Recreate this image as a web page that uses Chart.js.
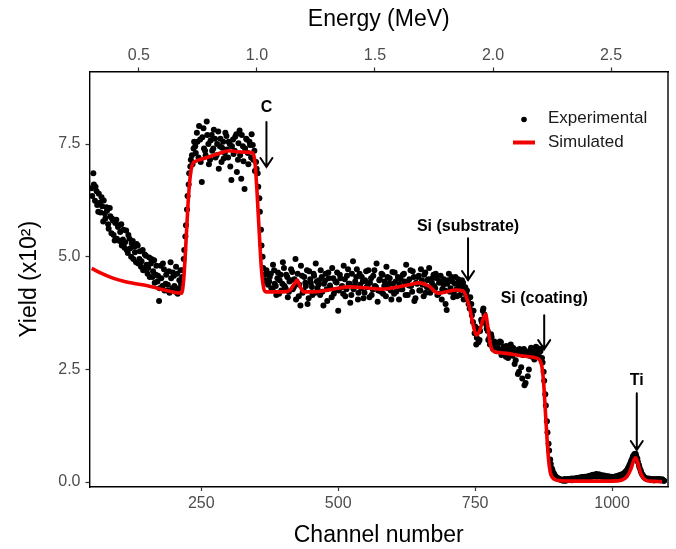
<!DOCTYPE html>
<html>
<head>
<meta charset="utf-8">
<title>RBS spectrum</title>
<script src="https://cdn.jsdelivr.net/npm/chart.js@4.4.0/dist/chart.umd.min.js"></script>
<style>
  html, body { margin: 0; padding: 0; background: #fff; }
  #wrap { width: 676px; height: 549px; }
</style>
</head>
<body>
<div id="wrap"><canvas id="rbsChart" width="676" height="549"></canvas></div>
<script>
// Axis ranges (bottom: channel, top: energy, left: yield x10^2)
const channelMin = 46;
const channelMax = 1102;
const energyMin = 0.291;
const energyMax = 2.741;
const yieldMin = -0.11;
const yieldMax = 9.11;

const channelTicks = [250, 500, 750, 1000];
const energyTicks = [0.5, 1.0, 1.5, 2.0, 2.5];
const yieldTicks = [0.0, 2.5, 5.0, 7.5];

// Experimental spectrum, read every 3 channels: set A from channel 50, set B from channel 51
const expChannelStep = 3;
const expFirstChannelA = 50;
const expYieldA = [
  // 50 - 212
  6.52, 6.85, 6.24, 6.45, 6.00, 6.20, 6.32, 5.78, 5.96, 6.10,
  5.72, 6.08, 5.52, 5.80, 5.36, 5.82, 5.66, 5.35, 5.72, 5.38,
  5.20, 5.58, 5.08, 5.40, 5.00, 5.35, 5.22, 4.88, 5.25, 4.95,
  4.78, 5.15, 4.72, 5.02, 4.62, 4.98, 4.85, 4.55, 4.92, 4.60,
  4.45, 4.02, 4.80, 4.35, 4.72, 4.40, 4.25, 4.68, 4.88, 4.30,
  4.58, 4.22, 4.62, 4.30, 4.70,
  // 215 - 236 (rise)
  4.55, 4.95, 5.45, 6.05, 6.60, 7.00, 7.25, 7.40,
  // 239 - 350
  7.45, 7.75, 7.20, 7.60, 6.66, 7.85, 7.35, 8.00, 7.50, 7.15,
  7.70, 7.40, 7.62, 7.25, 7.78, 7.45, 7.10, 7.55, 7.30, 7.68,
  7.20, 7.50, 6.70, 7.60, 7.35, 7.72, 7.15, 7.80, 6.73, 7.45,
  6.50, 7.62, 7.30, 7.55, 7.20, 7.48, 7.35, 7.10,
  // 353 - 371 (C edge)
  6.85, 6.30, 5.60, 5.00, 4.60, 4.48, 4.62,
  // 374 - 731
  4.45, 4.62, 4.28, 4.70, 4.35, 4.52, 4.18, 4.60, 4.40, 4.75,
  4.30, 4.55, 4.22, 4.48, 4.66, 4.32, 4.95, 4.40, 4.12, 3.92,
  4.58, 4.25, 4.42, 4.70, 4.08, 4.50, 4.33, 4.62, 4.20, 4.45,
  4.38, 4.15, 4.55, 3.92, 4.47, 4.28, 4.65, 4.36, 4.10, 4.52,
  4.25, 4.43, 3.80, 4.60, 4.32, 4.18, 4.50, 4.28, 4.72, 4.40,
  4.15, 4.90, 4.35, 4.55, 4.05, 4.62, 4.30, 4.45, 4.20, 4.68,
  4.38, 4.10, 4.52, 4.27, 4.70, 4.33, 4.00, 4.48, 4.22, 4.60,
  4.35, 4.12, 4.55, 4.40, 4.25, 4.66, 4.18, 4.45, 4.30, 4.05,
  4.50, 4.28, 4.62, 4.15, 4.42, 4.36, 4.70, 4.22, 4.55, 4.08,
  4.40, 4.58, 4.25, 4.48, 4.12, 4.65, 4.32, 4.50, 4.20, 4.42,
  4.60, 4.30, 4.52, 4.18, 4.45, 4.05, 4.38, 4.25, 3.82, 4.48,
  4.22, 4.55, 4.10, 4.40, 4.28, 4.50, 4.15, 4.35, 4.42, 4.20,
  // 734 - 788 (Si substrate edge)
  4.15, 4.05, 3.85, 3.95, 3.55, 3.30, 3.05, 3.40, 3.15, 3.60,
  3.80, 3.72, 3.50, 3.35, 3.20, 3.28, 3.05, 3.12, 2.98,
  // 791 - 872
  3.05, 2.90, 3.10, 2.85, 3.00, 2.78, 2.95, 2.88, 3.05, 2.80,
  2.95, 2.70, 2.92, 2.45, 2.85, 2.30, 2.95, 2.20, 2.88, 2.50,
  2.92, 2.78, 2.95, 2.85, 2.98, 2.80, 2.90, 2.75,
  // 875 - 905 (Si coating edge)
  2.45, 1.95, 1.35, 0.85, 0.50, 0.30, 0.20, 0.14, 0.10, 0.08, 0.06,
  // 908 - 1094
  0.05, 0.03, 0.06, 0.04, 0.07, 0.05, 0.08, 0.05, 0.07, 0.09,
  0.06, 0.10, 0.08, 0.11, 0.09, 0.12, 0.10, 0.14, 0.11, 0.16,
  0.13, 0.18, 0.14, 0.17, 0.12, 0.15, 0.11, 0.13, 0.10, 0.12,
  0.09, 0.11, 0.10, 0.13, 0.12, 0.15, 0.14, 0.16, 0.19, 0.23,
  0.28, 0.35, 0.44, 0.53, 0.60, 0.63, 0.52, 0.38, 0.26, 0.17,
  0.12, 0.09, 0.07, 0.08, 0.05, 0.07, 0.04, 0.06, 0.05, 0.07,
  0.04, 0.06, 0.03
];

const expFirstChannelB = 51;
const expYieldB = [
  // 51 - 213
  6.35, 6.60, 6.55, 6.15, 6.40, 5.98, 6.12, 6.25, 5.85, 6.02,
  5.62, 5.90, 5.85, 5.48, 5.75, 5.40, 5.70, 5.55, 5.25, 5.60,
  5.32, 5.15, 5.48, 5.18, 5.30, 4.95, 5.10, 5.28, 4.85, 5.12,
  4.90, 4.70, 5.05, 4.82, 4.75, 4.55, 4.95, 4.68, 4.42, 4.80,
  4.58, 4.30, 4.52, 4.85, 4.25, 4.60, 4.38, 4.20, 4.52, 4.65,
  4.35, 4.78, 4.18, 4.48, 4.40,
  // 216 - 237 (rise)
  4.70, 5.15, 5.70, 6.35, 6.85, 7.15, 7.05, 7.55,
  // 240 - 351
  7.30, 7.55, 7.90, 7.10, 7.65, 7.40, 7.25, 7.70, 7.05, 7.58,
  7.35, 7.82, 7.20, 7.50, 6.95, 7.62, 7.42, 7.18, 7.75, 7.38,
  7.55, 7.00, 7.45, 7.28, 7.66, 6.88, 7.52, 7.25, 7.70, 7.12,
  7.40, 7.60, 7.05, 7.48, 7.72, 7.15, 6.90, 6.95,
  // 354 - 372 (C edge)
  6.55, 6.00, 5.25, 4.75, 4.45, 4.70, 4.38,
  // 375 - 732
  4.55, 4.30, 4.82, 4.40, 4.15, 4.65, 4.48, 4.25, 4.88, 4.35,
  4.60, 4.10, 4.45, 4.72, 4.28, 4.50, 4.05, 4.62, 4.38, 4.80,
  4.20, 4.55, 4.35, 3.95, 4.68, 4.42, 4.15, 4.58, 4.85, 4.30,
  4.48, 4.70, 4.22, 4.40, 4.62, 4.02, 4.52, 4.30, 4.75, 4.18,
  4.45, 4.65, 4.25, 4.52, 4.35, 4.80, 4.12, 4.58, 4.40, 3.98,
  4.62, 4.28, 4.45, 4.72, 4.20, 4.38, 4.55, 4.08, 4.48, 4.32,
  4.70, 4.42, 4.15, 4.58, 4.35, 4.85, 4.25, 4.50, 4.62, 4.18,
  4.45, 4.78, 4.30, 4.52, 4.05, 4.40, 4.65, 4.22, 4.55, 4.38,
  4.28, 4.60, 4.45, 4.82, 4.15, 4.50, 4.35, 4.68, 4.02, 4.42,
  4.55, 4.25, 4.72, 4.38, 4.60, 4.20, 4.48, 4.75, 4.30, 4.52,
  4.35, 4.62, 4.15, 4.42, 4.58, 4.28, 4.50, 3.95, 4.40, 4.62,
  4.30, 4.45, 4.20, 4.55, 4.12, 4.38, 4.30, 4.48, 4.05, 4.32,
  // 735 - 789 (Si substrate edge)
  4.25, 3.95, 4.10, 3.70, 3.80, 3.45, 3.20, 3.10, 3.35, 3.55,
  3.85, 3.60, 3.40, 3.15, 3.05, 3.22, 2.95, 3.08, 2.90,
  // 792 - 873
  2.95, 3.12, 2.82, 2.98, 2.90, 3.02, 2.75, 2.92, 2.85, 2.98,
  2.62, 2.88, 2.40, 2.95, 2.55, 2.82, 2.15, 2.90, 2.35, 2.80,
  2.98, 2.88, 2.72, 3.00, 2.85, 2.92, 2.95, 2.65,
  // 876 - 906 (Si coating edge)
  2.25, 1.70, 1.10, 0.70, 0.40, 0.26, 0.18, 0.12, 0.09, 0.07, 0.05,
  // 909 - 1095
  0.04, 0.06, 0.03, 0.07, 0.05, 0.06, 0.04, 0.08, 0.06, 0.07,
  0.09, 0.07, 0.11, 0.08, 0.12, 0.10, 0.13, 0.12, 0.15, 0.13,
  0.16, 0.12, 0.17, 0.13, 0.14, 0.12, 0.14, 0.11, 0.13, 0.10,
  0.12, 0.09, 0.12, 0.11, 0.14, 0.13, 0.17, 0.18, 0.21, 0.25,
  0.31, 0.39, 0.48, 0.57, 0.62, 0.58, 0.45, 0.32, 0.22, 0.15,
  0.10, 0.08, 0.06, 0.07, 0.05, 0.06, 0.04, 0.07, 0.05, 0.06,
  0.04, 0.05, 0.03
];

// Simulated spectrum
const simChannel = [
  50, 70, 90, 110, 130, 150, 170, 190, 205, 214,
  218, 222, 226, 230, 234, 240, 255, 270, 285, 300,
  315, 330, 343, 348, 352, 356, 360, 364, 368, 400,
  412, 420, 425, 430, 437, 455, 490, 520, 550, 580,
  610, 630, 647, 665, 683, 700, 714, 728, 734, 740,
  746, 752, 758, 764, 769, 773, 777, 781, 790, 810,
  830, 850, 862, 868, 872, 875, 878, 881, 884, 887,
  891, 897, 907, 950, 1000, 1017, 1027, 1034, 1039, 1043,
  1047, 1051, 1056, 1062, 1070, 1091
];
const simYield = [
  4.74, 4.62, 4.52, 4.45, 4.40, 4.36, 4.30, 4.24, 4.20, 4.19,
  4.50, 5.30, 6.20, 6.80, 7.05, 7.12, 7.18, 7.24, 7.30, 7.35,
  7.33, 7.32, 7.31, 7.10, 6.40, 5.50, 4.70, 4.30, 4.22, 4.22,
  4.26, 4.40, 4.48, 4.35, 4.22, 4.22, 4.28, 4.33, 4.31, 4.28,
  4.33, 4.38, 4.42, 4.35, 4.19, 4.23, 4.26, 4.24, 4.10, 3.85,
  3.50, 3.26, 3.35, 3.60, 3.72, 3.45, 3.10, 2.93, 2.88, 2.85,
  2.81, 2.78, 2.75, 2.70, 2.55, 2.20, 1.60, 1.00, 0.50, 0.22,
  0.10, 0.05, 0.03, 0.02, 0.02, 0.04, 0.12, 0.28, 0.46, 0.54,
  0.42, 0.24, 0.10, 0.04, 0.02, 0.01
];

// Peak markers: label, channel, label height, arrow start and arrow tip (yield)
const peakLabels = ["C", "Si (substrate)", "Si (coating)", "Ti"];
const peakChannel = [369, 737, 876, 1045];
const peakLabelY = [8.30, 5.66, 4.08, 2.26];
const peakArrowTop = [7.99, 5.41, 3.70, 1.97];
const peakArrowTip = [6.99, 4.48, 2.95, 0.71];

const FONT = "Arial, 'Liberation Sans', sans-serif";
const RED = "#f20000";

const expPoints = expYieldA.map((v, i) => ({ x: expFirstChannelA + i * expChannelStep, y: v }))
  .concat(expYieldB.map((v, i) => ({ x: expFirstChannelB + i * expChannelStep, y: v })));
const simPoints = simChannel.map((c, i) => ({ x: c, y: simYield[i] }));

// arrows, labels, legend and the right side of the frame
const decorations = {
  id: "decorations",
  afterDatasetsDraw(chart) {
    const { ctx, chartArea, scales } = chart;
    ctx.save();

    ctx.strokeStyle = "#000";
    ctx.lineWidth = 1.4;
    ctx.beginPath();
    ctx.moveTo(chartArea.right, chartArea.top);
    ctx.lineTo(chartArea.right, chartArea.bottom);
    ctx.stroke();

    ctx.fillStyle = "#000";
    ctx.font = "bold 16px " + FONT;
    ctx.textAlign = "center";
    ctx.textBaseline = "middle";
    ctx.lineWidth = 2;
    ctx.lineCap = "round";
    peakLabels.forEach((label, i) => {
      const x = scales.x.getPixelForValue(peakChannel[i]);
      const yLabel = scales.y.getPixelForValue(peakLabelY[i]);
      const yTop = scales.y.getPixelForValue(peakArrowTop[i]);
      const yTip = scales.y.getPixelForValue(peakArrowTip[i]);
      ctx.fillText(label, x, yLabel);
      ctx.beginPath();
      ctx.moveTo(x, yTop);
      ctx.lineTo(x, yTip);
      ctx.moveTo(x - 6, yTip - 9);
      ctx.lineTo(x, yTip);
      ctx.lineTo(x + 6, yTip - 9);
      ctx.stroke();
    });

    // legend
    const lx = chartArea.right - 144;
    const tx = chartArea.right - 120;
    const y1 = chartArea.top + 47;
    const y2 = chartArea.top + 71;
    ctx.beginPath();
    ctx.arc(lx, y1 + 1, 2.8, 0, Math.PI * 2);
    ctx.fill();
    ctx.strokeStyle = RED;
    ctx.lineWidth = 4;
    ctx.lineCap = "butt";
    ctx.beginPath();
    ctx.moveTo(lx - 11, y2);
    ctx.lineTo(lx + 11, y2);
    ctx.stroke();
    ctx.fillStyle = "#1a1a1a";
    ctx.font = "17px " + FONT;
    ctx.textAlign = "left";
    ctx.fillText("Experimental", tx, y1);
    ctx.fillText("Simulated", tx, y2);

    ctx.restore();
  }
};

const tickFont = { family: FONT, size: 16 };
const titleFont = { family: FONT, size: 23 };
const gridStyle = { drawOnChartArea: false, drawTicks: true, tickLength: 4, tickColor: "#333", tickWidth: 1.2 };
const borderStyle = { display: true, color: "#000", width: 1.4 };

new Chart(document.getElementById("rbsChart"), {
  type: "scatter",
  data: {
    datasets: [
      {
        label: "Simulated",
        data: simPoints,
        showLine: true,
        borderColor: RED,
        borderWidth: 3.6,
        pointRadius: 0,
        cubicInterpolationMode: "monotone",
        order: 0
      },
      {
        label: "Experimental",
        data: expPoints,
        showLine: false,
        backgroundColor: "#000",
        borderColor: "#000",
        pointRadius: 3,
        borderWidth: 0,
        order: 1
      }
    ]
  },
  options: {
    responsive: false,
    animation: false,
    devicePixelRatio: 1,
    layout: { padding: { left: 0, right: 8, top: 0, bottom: 0 } },
    plugins: { legend: { display: false }, tooltip: { enabled: false } },
    scales: {
      x: {
        type: "linear",
        position: "bottom",
        min: channelMin,
        max: channelMax,
        afterBuildTicks: (s) => { s.ticks = channelTicks.map((v) => ({ value: v })); },
        afterFit: (s) => { s.height = 62; },
        ticks: { font: tickFont, color: "#4d4d4d", padding: 3, maxRotation: 0, callback: (v) => String(v) },
        grid: gridStyle,
        border: borderStyle,
        title: { display: true, text: "Channel number", font: titleFont, color: "#000", padding: { top: 0, bottom: 0 } }
      },
      x2: {
        type: "linear",
        position: "top",
        min: energyMin,
        max: energyMax,
        afterBuildTicks: (s) => { s.ticks = energyTicks.map((v) => ({ value: v })); },
        afterFit: (s) => { s.height = 71.5; },
        ticks: { font: tickFont, color: "#4d4d4d", padding: 2, maxRotation: 0, callback: (v) => v.toFixed(1) },
        grid: gridStyle,
        border: borderStyle,
        title: { display: true, text: "Energy (MeV)", font: titleFont, color: "#000", padding: { top: 6, bottom: 0 } }
      },
      y: {
        type: "linear",
        position: "left",
        min: yieldMin,
        max: yieldMax,
        afterBuildTicks: (s) => { s.ticks = yieldTicks.map((v) => ({ value: v })); },
        afterFit: (s) => { s.width = 89.5; },
        ticks: { font: tickFont, color: "#4d4d4d", padding: 5, callback: (v) => v.toFixed(1) },
        grid: gridStyle,
        border: borderStyle,
        title: { display: true, text: "Yield (x10²)", font: titleFont, color: "#000", padding: { top: 16, bottom: 0 } }
      }
    }
  },
  plugins: [decorations]
});
</script>
</body>
</html>
